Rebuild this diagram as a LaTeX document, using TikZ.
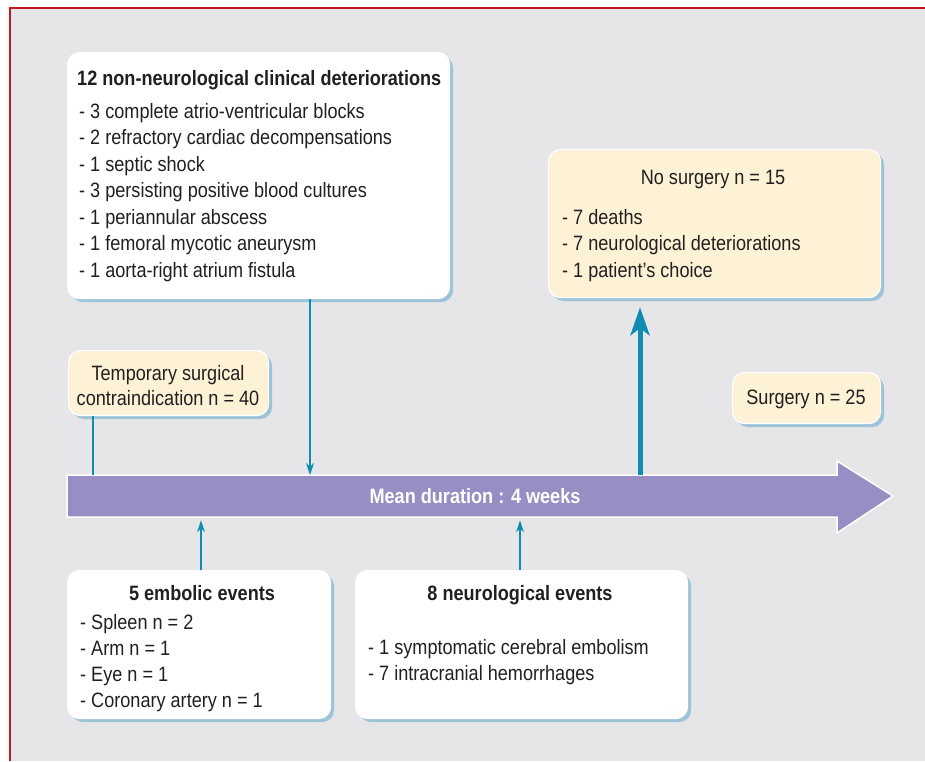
\documentclass[tikz,border=0pt]{standalone}
\usepackage{fontspec}
\setmainfont{Liberation Sans}[FakeStretch=0.87]
\usetikzlibrary{arrows.meta,shadows}
\definecolor{bgc}{HTML}{E6E6E8}
\definecolor{cream}{HTML}{FDF1D6}
\definecolor{barc}{HTML}{978FC4}
\definecolor{teal}{HTML}{0F8DB1}
\definecolor{shc}{HTML}{9CC3D7}
\definecolor{framec}{HTML}{C4161C}
\definecolor{txt}{HTML}{231F20}
\begin{document}
\begin{tikzpicture}[x=1pt,y=-1pt,
  box/.style={rounded corners=12pt, draw=white, line width=1.2pt, anchor=north west, inner sep=0pt,
    drop shadow={shadow xshift=3.5pt, shadow yshift=-3.5pt, fill=shc, opacity=1}},
  wbox/.style={box, fill=white},
  cbox/.style={box, fill=cream},
  tx/.style={text=txt, inner sep=0pt, font=\fontsize{20.8}{24}\selectfont, anchor=base west},
  txc/.style={tx, anchor=base},
  tb/.style={tx, font=\fontsize{20.8}{24}\selectfont\bfseries},
  tbc/.style={tb, anchor=base},
  thin/.style={draw=teal, line width=1.5pt},
  thinarr/.style={thin, -{Stealth[length=12pt,width=8pt]}},
  thickarr/.style={draw=teal, line width=5pt, -{Stealth[length=28pt,width=19pt,inset=7pt]}}
]
\useasboundingbox (0,0) rectangle (925,761);
\fill[white] (0,0) rectangle (925,761);
\fill[bgc] (10,8) rectangle (925,761);
\draw[framec, line width=2.8pt] (10,761) -- (10,8) -- (925,8);

% boxes
\node[wbox, minimum width=382pt, minimum height=246pt] (det) at (67,52) {};
\node[cbox, minimum width=332pt, minimum height=148pt] (nosurg) at (548,149) {};
\node[cbox, minimum width=148pt, minimum height=51pt] (surg) at (732,372) {};
\node[cbox, minimum width=200pt, minimum height=65pt] (temp) at (68,350) {};
\node[wbox, minimum width=263pt, minimum height=148pt] (embol) at (67,570) {};
\node[wbox, minimum width=332pt, minimum height=148pt] (neuro) at (355,570) {};

% timeline bar
\fill[barc, draw=white, line width=1.5pt] (67,475) -- (837,475) -- (837,461) -- (893,496) -- (837,533) -- (837,517) -- (67,517) -- cycle;
\node[minimum width=770pt, minimum height=42pt, inner sep=0pt, anchor=north west] (bar) at (67,475) {};
\node[tbc, text=white] (mean) at (475,503) {Mean duration : 4 weeks};

% texts: deteriorations
\node[tb] (detT) at (77,85) {12 non-neurological clinical deteriorations};
\node[tx] (d1) at (79,118) {- 3 complete atrio-ventricular blocks};
\node[tx] (d2) at (79,144.5) {- 2 refractory cardiac decompensations};
\node[tx] (d3) at (79,171) {- 1 septic shock};
\node[tx] (d4) at (79,197.5) {- 3 persisting positive blood cultures};
\node[tx] (d5) at (79,224) {- 1 periannular abscess};
\node[tx] (d6) at (79,250.5) {- 1 femoral mycotic aneurysm};
\node[tx] (d7) at (79,277) {- 1 aorta-right atrium fistula};

% no surgery
\node[txc] (nsT) at (713,184) {No surgery n = 15};
\node[tx] (n1) at (562,224) {- 7 deaths};
\node[tx] (n2) at (562,250.5) {- 7 neurological deteriorations};
\node[tx] (n3) at (562,277) {- 1 patient's choice};

% surgery
\node[txc] (sT) at (806,404) {Surgery n = 25};

% temporary
\node[txc] (t1) at (168,380) {Temporary surgical};
\node[txc] (t2) at (168,405) {contraindication n = 40};

% embolic
\node[tbc] (eT) at (202,600) {5 embolic events};
\node[tx] (e1) at (80,629) {- Spleen n = 2};
\node[tx] (e2) at (80,655) {- Arm n = 1};
\node[tx] (e3) at (80,681) {- Eye n = 1};
\node[tx] (e4) at (80,707) {- Coronary artery n = 1};

% neurological
\node[tbc] (nT) at (520,600) {8 neurological events};
\node[tx] (m1) at (368,654) {- 1 symptomatic cerebral embolism};
\node[tx] (m2) at (368,680) {- 7 intracranial hemorrhages};

% connectors
\coordinate (xa) at (93,0);
\coordinate (xb) at (310,0);
\coordinate (xc) at (640,0);
\coordinate (xd) at (201,0);
\coordinate (xe) at (520,0);
\draw[thin] (temp.south -| xa) -- (bar.north -| xa);
\draw[thinarr] (det.south -| xb) -- (bar.north -| xb);
\draw[thickarr] (bar.north -| xc) -- ([yshift=-9pt]nosurg.south -| xc);
\draw[thinarr] (embol.north -| xd) -- ([yshift=-3pt]bar.south -| xd);
\draw[thinarr] (neuro.north -| xe) -- ([yshift=-3pt]bar.south -| xe);
\end{tikzpicture}
\end{document}
